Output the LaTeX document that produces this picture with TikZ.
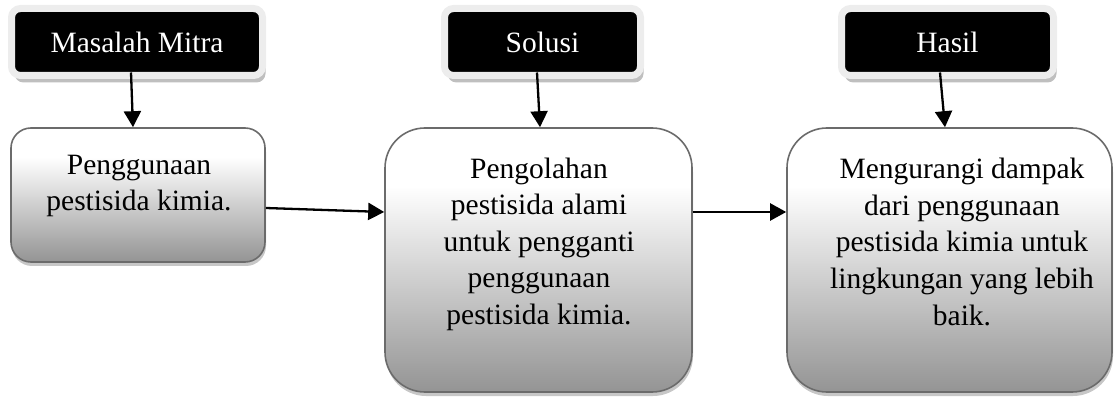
\documentclass[tikz,border=0pt]{standalone}
\usepackage{fontspec}
\setmainfont{Liberation Serif}
\usetikzlibrary{arrows.meta,calc,shadows}
\pgfdeclareverticalshading{boxshade}{100bp}{color(0bp)=(black!42); color(25bp)=(black!42); color(64bp)=(white); color(100bp)=(white)}
\newcommand{\diagfont}{\fontsize{29.5}{36.6}\selectfont}
\begin{document}
\begin{tikzpicture}[x=1pt,y=-1pt,
  hdr/.style={draw=black!7, line width=7pt, fill=black, rounded corners=9pt,
    text=white, font=\diagfont, inner sep=0pt, outer sep=0pt,
    drop shadow={shadow xshift=3pt, shadow yshift=-7pt, fill=black!25, opacity=1}},
  mainbox/.style={draw=black!58, line width=1.6pt, shading=boxshade, inner sep=0pt,
    drop shadow={shadow xshift=1pt, shadow yshift=-4pt, fill=black!22, opacity=1}},
  boxtext/.style={align=center, font=\diagfont, inner sep=0pt, anchor=north},
  arr/.style={line width=2.3pt, -{Triangle[width=17pt,length=16pt]}}
]
\useasboundingbox (0,0) rectangle (1114,398);

% header boxes
\node[hdr, minimum width=251pt, minimum height=67pt] (h1) at (137,42) {Masalah Mitra};
\node[hdr, minimum width=196pt, minimum height=67pt] (h2) at (542.5,42) {Solusi};
\node[hdr, minimum width=212pt, minimum height=67pt] (h3) at (947.5,42) {Hasil};

% main boxes
\node[mainbox, rounded corners=20pt, minimum width=254pt, minimum height=134pt] (b1) at (138,195) {};
\node[mainbox, rounded corners=40pt, minimum width=307pt, minimum height=264pt] (b2) at (538.5,260) {};
\node[mainbox, rounded corners=40pt, minimum width=325pt, minimum height=264pt] (b3) at (949.5,260) {};

% texts
\node[boxtext] (t1) at (139,154.5) {Penggunaan\\pestisida kimia.};
\node[boxtext] (t2) at (539,157.5) {Pengolahan\\pestisida alami\\untuk pengganti\\penggunaan\\pestisida kimia.};
\node[boxtext] (t3) at (962,158) {Mengurangi dampak\\dari penggunaan\\pestisida kimia untuk\\lingkungan yang lebih\\baik.};

% connectors
\draw[arr] ($(h1.south)+(-6,-3)$) -- ($(b1.north)+(-5,0)$);
\draw[arr] ($(h2.south)+(-5.5,-3)$) -- ($(b2.north)+(1.5,0)$);
\draw[arr] ($(h3.south)+(-7.5,-3)$) -- ($(b3.north)+(-4.5,0)$);
\draw[arr] ($(b1.east)+(0,13)$) -- ($(b2.west)+(0,-48)$);
\draw[arr] ($(b2.east)+(0,-48)$) -- ($(b3.west)+(0,-48)$);
\end{tikzpicture}
\end{document}
